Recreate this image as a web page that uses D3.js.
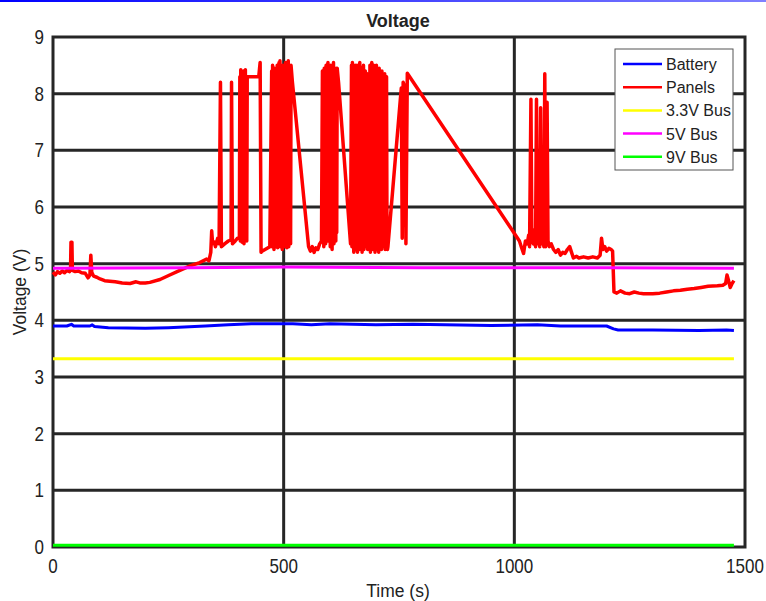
<!DOCTYPE html>
<html>
<head>
<meta charset="utf-8">
<title>Voltage</title>
<script src="https://cdn.jsdelivr.net/npm/d3@7"></script>
<style>
  body { margin: 0; background: #fff; }
  svg { display: block; }
  .tick-label { font-family: "Liberation Sans", Arial, sans-serif; font-size: 20px; fill: #222; }
  .lbl { font-family: "Liberation Sans", Arial, sans-serif; fill: #222; }
</style>
</head>
<body>
<svg id="chart" width="766" height="601"></svg>
<script>
// series / legend
const seriesNames = ["Battery", "Panels", "3.3V Bus", "5V Bus", "9V Bus"];
const seriesColors = ["#0000ff", "#ff0000", "#ffff00", "#ff00ff", "#00ff00"];
const xTicks = [0, 500, 1000, 1500];
const yTicks = [0, 1, 2, 3, 4, 5, 6, 7, 8, 9];

// [time (s), volts]
const battery = [[0,3.9],[30,3.9],[40,3.93],[45,3.9],[80,3.9],[85,3.92],[90,3.89],[120,3.87],[200,3.86],[250,3.87],
  [330,3.9],[380,3.92],[430,3.94],[480,3.94],[520,3.94],[560,3.92],[600,3.94],[650,3.93],[700,3.92],[780,3.93],
  [850,3.92],[950,3.91],[1050,3.92],[1100,3.9],[1200,3.9],[1215,3.85],[1225,3.83],[1300,3.83],[1400,3.82],[1460,3.83],[1476,3.82]];

const panels = [[0,4.85],[5,4.8],[10,4.86],[15,4.83],[20,4.87],[25,4.84],[30,4.88],[36,4.86],[38,4.9],[39,5.38],[41,5.38],[42,4.88],
  [48,4.86],[55,4.87],[62,4.84],[70,4.83],[76,4.75],[80,4.8],[82,5.15],[84,4.85],[88,4.78],[95,4.76],[102,4.73],[112,4.7],
  [123,4.69],[135,4.68],[150,4.66],[167,4.65],[180,4.68],[188,4.66],[200,4.66],[210,4.67],[232,4.72],[253,4.8],[275,4.88],
  [297,4.96],[318,5.02],[333,5.08],[338,5.05],[342,5.2],[344,5.58],[346,5.35],[350,5.38],[352,5.3],[357,5.45],[360,5.35],
  [363,8.2],[365,5.3],[372,5.35],[380,5.4],[386,5.42],[387,8.2],[389,5.35],[395,5.4],[400,5.45],
  [404,5.45],[405,8.3],[406,5.4],[407,8.42],[408,5.5],[409,8.38],[410,5.38],[411,8.35],[412,5.42],[413,8.4],[414,5.35],
  [415,8.3],[416,5.5],[417,8.42],[418,5.45],[419,8.3],[420,5.4],[421,8.3],[446,8.3],
  [449,8.55],[451,5.2],[453,5.22],[470,5.3],
  [474,8.4],[475,5.3],[476,8.5],[477,5.4],[478,8.3],[479,5.25],[480,8.45],[481,5.5],[482,8.2],[483,5.3],[484,8.35],
  [485,5.6],[486,8.5],[487,5.28],[488,8.3],[489,5.35],[490,8.55],[491,5.4],[492,8.58],[493,5.3],[494,8.45],[495,5.45],
  [496,8.4],[497,5.25],[498,8.5],[499,5.35],[500,8.3],[501,5.5],[502,8.45],[503,5.3],[504,8.55],[505,5.4],[506,8.35],
  [507,5.28],[508,8.5],[509,5.45],[510,8.58],[511,5.3],[512,8.4],[513,5.5],[514,8.45],[515,5.35],[516,8.5],
  [519,8.2],[554,5.3],[558,5.22],[562,5.3],[566,5.2],[570,5.28],[574,5.25],[578,5.35],[582,5.4],
  [584,8.4],[585,5.4],[586,8.3],[587,5.3],[588,8.45],[589,5.5],[590,8.35],[591,5.35],[592,8.5],[593,5.45],[594,8.2],
  [595,5.4],[596,8.55],[597,5.6],[598,8.4],[599,5.5],[600,8.45],[601,5.3],[602,8.5],[603,5.4],[604,8.35],[605,5.25],
  [606,8.45],[607,5.45],[608,8.55],[609,5.35],[610,8.4],[611,5.5],[612,8.3],[613,5.4],[614,8.45],[615,5.55],[616,8.45],
  [619,8.2],[645,5.35],
  [647,8.5],[648,5.3],[649,8.55],[650,5.35],[651,8.3],[652,5.2],[653,8.45],[654,5.4],[655,8.5],[656,5.25],[657,8.4],
  [658,5.3],[659,8.5],[660,5.2],[661,8.3],[662,5.35],[663,8.45],[664,5.25],[665,8.55],[666,5.4],[667,8.3],[668,5.3],
  [669,8.45],[670,5.2],[671,8.4],[672,5.35],[673,8.5],[674,5.25],[675,8.3],[676,5.3],[677,8.4],[678,5.4],[679,8.2],
  [680,5.3],[681,8.35],[682,5.25],[683,8.3],[684,5.45],[685,8.25],[686,5.3],[687,8.5],[688,5.2],[689,8.45],[690,5.35],
  [691,8.55],[692,5.25],[693,8.4],[694,5.3],[695,8.5],[696,5.4],[697,8.35],[698,5.2],[699,8.45],[700,5.3],[701,8.5],
  [702,5.25],[703,8.4],[704,5.35],[705,8.3],[706,5.2],[707,8.45],[708,5.4],[709,8.35],[710,5.3],[711,8.2],[712,5.25],
  [713,8.4],[714,5.35],[715,8.3],[716,5.45],[717,8.25],[718,5.3],[719,8.35],[720,5.25],[721,8.2],[722,5.4],[723,8.3],
  [724,5.3],[725,5.25],[726,5.3],
  [755,8.1],[757,5.45],[759,8.2],[763,8.1],[765,5.35],[768,8.36],[1011,5.4],
  [1015,5.3],[1020,5.18],[1024,5.4],[1028,5.35],[1031,5.5],[1033,5.3],[1036,7.9],[1038,5.4],[1041,5.35],[1043,5.6],
  [1046,5.3],[1048,7.9],[1050,5.35],[1053,5.5],[1055,5.3],[1057,7.75],[1059,5.35],[1062,5.45],[1064,5.3],[1066,8.35],
  [1068,5.3],[1071,7.85],[1073,5.4],[1076,5.3],[1080,5.35],[1085,5.25],[1090,5.2],[1095,5.25],[1100,5.15],[1105,5.2],
  [1110,5.18],[1115,5.25],[1120,5.3],[1124,5.2],[1128,5.1],[1135,5.13],[1140,5.1],[1150,5.12],[1160,5.1],[1170,5.12],
  [1180,5.1],[1186,5.15],[1189,5.45],[1192,5.25],[1196,5.3],[1200,5.22],[1205,5.27],[1210,5.25],[1213,5.22],[1216,4.5],
  [1222,4.48],[1230,4.52],[1240,4.48],[1250,4.47],[1260,4.5],[1270,4.48],[1280,4.47],[1300,4.47],[1315,4.48],[1330,4.5],
  [1345,4.52],[1360,4.53],[1375,4.55],[1390,4.56],[1405,4.58],[1420,4.6],[1440,4.61],[1452,4.62],[1458,4.65],[1461,4.8],
  [1465,4.68],[1468,4.58],[1472,4.65],[1476,4.7]];

const bus33 = [[0,3.32],[500,3.32],[1000,3.32],[1476,3.32]];
const bus5 = [[0,4.92],[300,4.93],[500,4.94],[800,4.93],[1200,4.93],[1476,4.92]];
const bus9 = [[0,0.03],[500,0.03],[1000,0.03],[1476,0.03]];

const allSeries = [battery, panels, bus33, bus5, bus9];

const W = 766, H = 601;
const m = { left: 53, right: 21, top: 37, bottom: 54 };
const gridColor = "#262626";

const svg = d3.select("#chart");

// thin gradient strip at the very top
const grad = svg.append("defs").append("linearGradient").attr("id", "topbar");
grad.append("stop").attr("offset", "0%").attr("stop-color", "#0000ff");
grad.append("stop").attr("offset", "100%").attr("stop-color", "#8080ff");
svg.append("rect").attr("x", 0).attr("y", 0).attr("width", W).attr("height", 2).attr("fill", "url(#topbar)");

const x = d3.scaleLinear().domain([0, 1500]).range([m.left, W - m.right]);
const y = d3.scaleLinear().domain([0, 9]).range([H - m.bottom, m.top]);

// grid
svg.append("g").selectAll("line").data(yTicks.slice(1, -1)).join("line")
  .attr("x1", x(0)).attr("x2", x(1500))
  .attr("y1", d => y(d)).attr("y2", d => y(d))
  .attr("stroke", gridColor).attr("stroke-width", 3);
svg.append("g").selectAll("line").data(xTicks.slice(1, -1)).join("line")
  .attr("y1", y(0)).attr("y2", y(9))
  .attr("x1", d => x(d)).attr("x2", d => x(d))
  .attr("stroke", gridColor).attr("stroke-width", 3);

// frame
svg.append("rect")
  .attr("x", x(0)).attr("y", y(9))
  .attr("width", x(1500) - x(0)).attr("height", y(0) - y(9))
  .attr("fill", "none").attr("stroke", gridColor).attr("stroke-width", 3);

// tick labels (squeezed a little, the original font is narrow)
svg.append("g").selectAll("text").data(yTicks).join("text")
  .attr("class", "tick-label")
  .attr("transform", d => `translate(${x(0) - 9},${y(d) + 7}) scale(0.85,1)`)
  .attr("text-anchor", "end")
  .text(d => d);
svg.append("g").selectAll("text").data(xTicks).join("text")
  .attr("class", "tick-label")
  .attr("transform", d => `translate(${x(d)},${y(0) + 26}) scale(0.85,1)`)
  .attr("text-anchor", "middle")
  .text(d => d);

// data lines
const line = d3.line().x(d => x(d[0])).y(d => y(d[1]));
svg.append("g").selectAll("path").data(allSeries).join("path")
  .attr("d", line)
  .attr("fill", "none")
  .attr("stroke", (d, i) => seriesColors[i])
  .attr("stroke-width", (d, i) => i === 1 ? 3.5 : 3)
  .attr("stroke-linejoin", "round");

// title and axis labels
svg.append("text").attr("class", "lbl")
  .attr("x", 398).attr("y", 27)
  .attr("text-anchor", "middle")
  .style("font-size", "18px").style("font-weight", "bold")
  .text("Voltage");
svg.append("text").attr("class", "lbl")
  .attr("transform", "translate(398,597) scale(0.92,1)")
  .attr("text-anchor", "middle")
  .style("font-size", "19px")
  .text("Time (s)");
svg.append("text").attr("class", "lbl")
  .attr("transform", "translate(26,292) rotate(-90) scale(0.92,1)")
  .attr("text-anchor", "middle")
  .style("font-size", "19px")
  .text("Voltage (V)");

// legend
const lg = svg.append("g").attr("transform", "translate(615,49)");
lg.append("rect").attr("width", 118).attr("height", 121)
  .attr("fill", "#fff").attr("stroke", "#555").attr("stroke-width", 1);
const rows = lg.selectAll("g").data(seriesNames).join("g")
  .attr("transform", (d, i) => `translate(0,${15 + i * 23.2})`);
rows.append("line").attr("x1", 8).attr("x2", 47).attr("y1", 0).attr("y2", 0)
  .attr("stroke", (d, i) => seriesColors[i]).attr("stroke-width", 2.5);
rows.append("text").attr("class", "lbl")
  .attr("x", 51).attr("y", 6)
  .style("font-size", "16px")
  .text(d => d);
</script>
</body>
</html>
